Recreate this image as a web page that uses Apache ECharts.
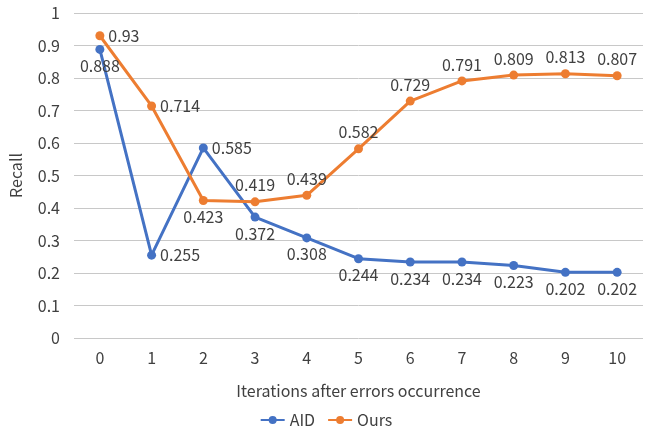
<!DOCTYPE html>
<html>
<head>
<meta charset="utf-8">
<script src="https://cdn.jsdelivr.net/npm/echarts@6/dist/echarts.min.js"></script>
<style>
html,body{margin:0;padding:0;background:#fff;}
#chart{width:652px;height:436px;}
</style>
</head>
<body>
<div id="chart"></div>
<script>
// Recall per iteration after an error occurs
const iterations = ['0', '1', '2', '3', '4', '5', '6', '7', '8', '9', '10'];
const aidRecall = [0.888, 0.255, 0.585, 0.372, 0.308, 0.244, 0.234, 0.234, 0.223, 0.202, 0.202];
const oursRecall = [0.93, 0.714, 0.423, 0.419, 0.439, 0.582, 0.729, 0.791, 0.809, 0.813, 0.807];

// label placement per point
const aidLabelPos = ['bottom', 'right', 'right', 'bottom', 'bottom', 'bottom', 'bottom', 'bottom', 'bottom', 'bottom', 'bottom'];
const oursLabelPos = ['right', 'right', 'bottom', 'top', 'top', 'top', 'top', 'top', 'top', 'top', 'top'];

const FONT = '"Noto Sans CJK SC", "Noto Sans", sans-serif';
const TXT = '#404040';
const FS = 16;

function withLabels(values, positions) {
  return values.map((v, i) => ({
    value: v,
    label: { position: positions[i] }
  }));
}

const chart = echarts.init(document.getElementById('chart'));
chart.setOption({
  animation: false,
  textStyle: { fontFamily: FONT },
  grid: { left: 72, right: 9, top: 13, bottom: 98 },
  legend: {
    bottom: 3,
    left: 'center',
    itemWidth: 24,
    itemHeight: 10,
    itemGap: 12,
    textStyle: { fontSize: FS, color: TXT, fontFamily: FONT },
    data: ['AID', 'Ours']
  },
  xAxis: {
    type: 'category',
    data: iterations,
    boundaryGap: true,
    name: 'Iterations after errors occurrence',
    nameLocation: 'middle',
    nameGap: 45,
    nameTextStyle: { fontSize: FS, color: TXT, fontFamily: FONT },
    axisLine: { show: false },
    axisTick: { show: false },
    axisLabel: { fontSize: FS, color: TXT, margin: 12, fontFamily: FONT }
  },
  yAxis: {
    type: 'value',
    min: 0,
    max: 1,
    interval: 0.1,
    name: 'Recall',
    nameLocation: 'middle',
    nameGap: 50,
    nameTextStyle: { fontSize: FS, color: TXT, fontFamily: FONT },
    axisLine: { show: false },
    axisTick: { show: false },
    axisLabel: {
      fontSize: FS, color: TXT, margin: 14, fontFamily: FONT,
      formatter: v => String(Math.round(v * 10) / 10)
    },
    splitLine: { lineStyle: { color: '#c8c8c8', width: 1 } }
  },
  series: [
    {
      name: 'AID',
      type: 'line',
      data: withLabels(aidRecall, aidLabelPos),
      color: '#4472C4',
      symbol: 'circle',
      symbolSize: 9,
      lineStyle: { width: 3 },
      label: { show: true, fontSize: FS, color: TXT, fontFamily: FONT, distance: 4 }
    },
    {
      name: 'Ours',
      type: 'line',
      data: withLabels(oursRecall, oursLabelPos),
      color: '#ED7D31',
      symbol: 'circle',
      symbolSize: 9,
      lineStyle: { width: 3 },
      label: { show: true, fontSize: FS, color: TXT, fontFamily: FONT, distance: 4 }
    }
  ]
});
</script>
</body>
</html>
